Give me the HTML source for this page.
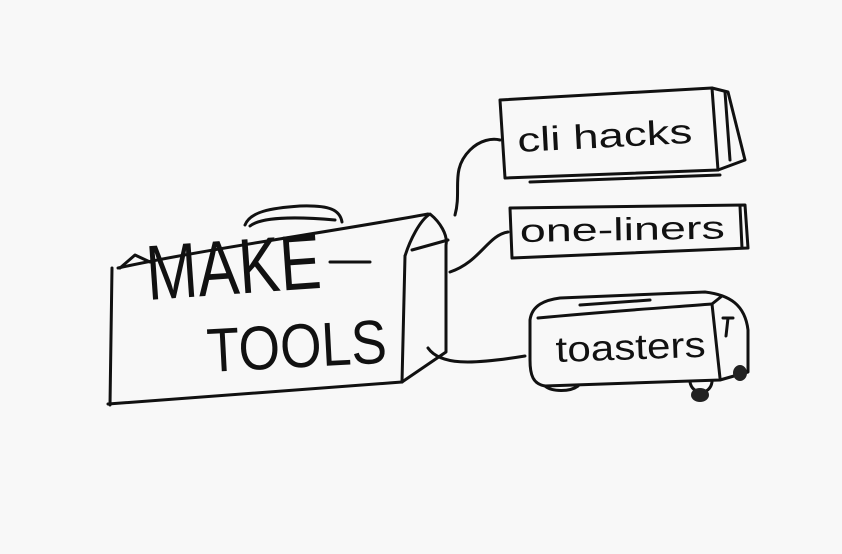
<!DOCTYPE html>
<html><head><meta charset="utf-8"><style>
html,body{margin:0;padding:0;background:#f8f8f8;}
svg{display:block}
text{font-family:"Liberation Sans",sans-serif;fill:#111}
</style></head><body>
<svg width="842" height="554" viewBox="0 0 842 554" xmlns="http://www.w3.org/2000/svg">
<rect width="842" height="554" fill="#f8f8f8"/>
<g fill="none" stroke="#111" stroke-width="3" stroke-linecap="round" stroke-linejoin="round">
<!-- toolbox -->
<path d="M112 268 L110 405"/>
<path d="M108 404 L402 382"/>
<path d="M118 268 C200 250 330 232 428 214"/>
<path d="M120 268 L135 255 L150 262"/>
<path d="M405 256 L402 382"/>
<path d="M405 256 C410 240 420 220 430 214 C440 222 448 235 446 245 L446 352 L402 382"/>
<path d="M412 250 L448 240"/>
<path d="M245 225 C250 212 270 208 300 206 C330 205 340 210 342 222"/>
<path d="M250 226 C260 218 290 216 335 220"/>
<path d="M330 262 L370 262"/>
<!-- connectors -->
<path d="M455 215 C462 190 450 170 470 150 C480 140 492 138 500 140"/>
<path d="M450 272 C480 262 488 235 508 232"/>
<path d="M428 348 C440 365 470 365 525 356"/>
<!-- cli hacks box -->
<path d="M500 100 L712 88 L718 170 L505 178 Z"/>
<path d="M712 88 L728 92 L745 160 L718 170"/>
<path d="M725 92 L730 160"/>
<path d="M530 182 L720 175"/>
<!-- one-liners box -->
<path d="M510 208 L745 205 L748 248 L512 258 Z"/>
<path d="M740 206 L742 248"/>
<!-- toaster -->
<path d="M530 320 C532 305 545 300 560 298 L705 292 C730 295 745 305 748 330 L748 372 L720 380 L545 386 C533 384 530 375 530 360 Z"/>
<path d="M538 318 C600 312 660 308 712 304 L722 296"/>
<path d="M712 304 L720 378"/>
<path d="M580 305 L650 300"/>
<path d="M545 386 C552 392 570 392 578 386"/>
<path d="M690 382 C692 395 710 396 712 382"/>
<path d="M723 318 L733 318 M728 318 L726 336"/>
</g>
<ellipse cx="700" cy="395" rx="9" ry="7" fill="#222"/>
<ellipse cx="740" cy="373" rx="7" ry="8" fill="#222"/>
<text x="148" y="300" font-size="78" transform="rotate(-4 148 300)" textLength="175" lengthAdjust="spacingAndGlyphs">MAKE</text>
<text x="208" y="372" font-size="62" transform="rotate(-3 208 372)" textLength="180" lengthAdjust="spacingAndGlyphs">TOOLS</text>
<text x="518" y="152" font-size="34" transform="rotate(-3 518 152)" textLength="175" lengthAdjust="spacingAndGlyphs">cli hacks</text>
<text x="520" y="242" font-size="32" transform="rotate(-1 520 242)" textLength="205" lengthAdjust="spacingAndGlyphs">one-liners</text>
<text x="556" y="362" font-size="36" transform="rotate(-2 556 362)" textLength="150" lengthAdjust="spacingAndGlyphs">toasters</text>
</svg>
</body></html>
